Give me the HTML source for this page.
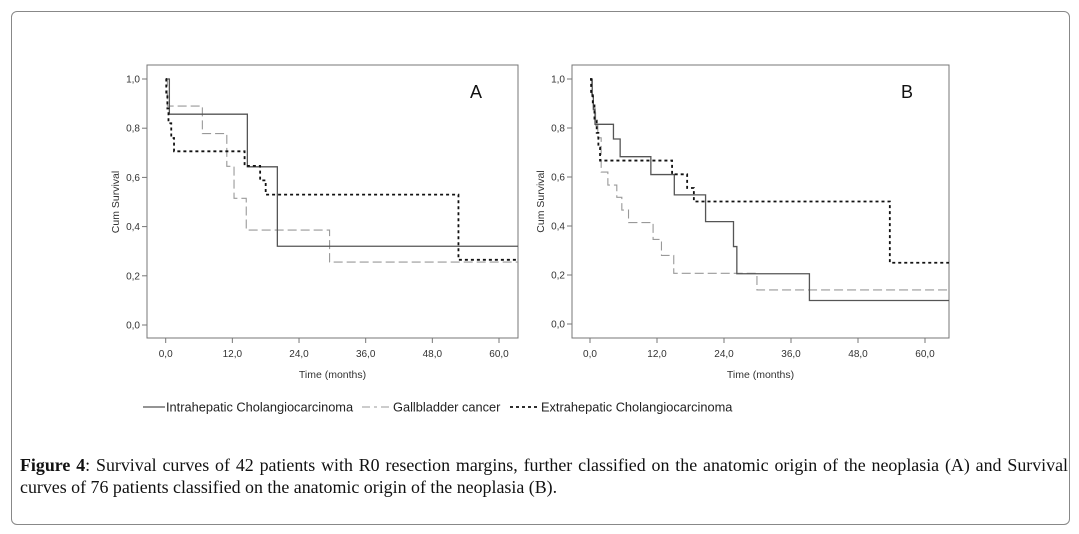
<!DOCTYPE html>
<html><head><meta charset="utf-8">
<style>
body{margin:0;width:1079px;height:534px;background:#fff;position:relative;overflow:hidden;font-family:"Liberation Sans",sans-serif}
#frame{position:absolute;left:11px;top:11px;width:1059px;height:514px;border:1px solid #888;border-radius:6px;box-sizing:border-box}
.cap{position:absolute;left:20px;width:1048px;font-family:"Liberation Serif",serif;font-size:17.9px;line-height:22px;color:#111;white-space:nowrap}
#cap1{top:454px;text-align:justify;text-align-last:justify;white-space:normal}
#cap2{top:476px}
svg{position:absolute;left:0;top:0}
</style></head><body>
<div id="frame"></div>
<svg id="chart" width="1079" height="534"></svg>
<div class="cap" id="cap1"><b>Figure 4</b>: Survival curves of 42 patients with R0 resection margins, further classified on the anatomic origin of the neoplasia (A) and Survival</div>
<div class="cap" id="cap2">curves of 76 patients classified on the anatomic origin of the neoplasia (B).</div>
<script>
const xTicks=[0,12,24,36,48,60];
const yTicks=[0,0.2,0.4,0.6,0.8,1.0];
const xTickLabels=["0,0","12,0","24,0","36,0","48,0","60,0"];
const yTickLabels=["0,0","0,2","0,4","0,6","0,8","1,0"];
const seriesNames=["Intrahepatic Cholangiocarcinoma","Gallbladder cancer","Extrahepatic Cholangiocarcinoma"];
// A: step times and survival values
const aIntraT=[0,0.66,14.7,20.1];
const aIntraS=[1.0,0.857,0.643,0.32];
const aGallT=[0,0.3,6.6,11,12.3,14.5,29.5];
const aGallS=[1.0,0.89,0.778,0.645,0.515,0.386,0.256];
const aExtraT=[0,0.1,0.3,0.5,1.0,1.5,14.2,17,18,52.7];
const aExtraS=[1.0,0.94,0.88,0.82,0.76,0.706,0.647,0.588,0.53,0.265];
// B
const bIntraT=[0,0.4,0.6,0.9,4.2,5.4,10.9,15.1,20.7,25.7,26.3,39.3];
const bIntraS=[1.0,0.93,0.875,0.815,0.755,0.683,0.61,0.527,0.418,0.316,0.205,0.096];
const bGallT=[0,0.3,0.6,1.0,1.4,2.0,3.2,4.8,5.7,6.9,11.3,12.8,15,29.9];
const bGallS=[1.0,0.93,0.88,0.81,0.76,0.62,0.567,0.517,0.465,0.414,0.345,0.28,0.207,0.139];
const bExtraT=[0,0.2,0.5,0.8,1.2,1.5,1.8,14.7,17.4,18.6,53.7];
const bExtraS=[1.0,0.94,0.9,0.83,0.78,0.72,0.667,0.611,0.555,0.5,0.25];

const NS="http://www.w3.org/2000/svg";
const svg=document.getElementById('chart');
function mk(t,a,p){const e=document.createElementNS(NS,t);for(const k in a)e.setAttribute(k,a[k]);(p||svg).appendChild(e);return e;}
const styles=[{stroke:"#555",w:1.3,dash:""},{stroke:"#999",w:1.1,dash:"9,4"},{stroke:"#111",w:1.8,dash:"3,3"}];
function panel(cfg){
  const g=mk('g',{});
  
  
  const x=v=>cfg.x0+(v/60)*(cfg.x60-cfg.x0);
  const y=v=>cfg.y0-v*(cfg.y0-cfg.y1);
  const box=mk('rect',{x:cfg.L,y:cfg.T,width:cfg.R-cfg.L,height:cfg.B-cfg.T,fill:"none",stroke:"#777","stroke-width":1},g);
  
  
  xTicks.forEach((t,i)=>{
    mk('line',{x1:x(t),x2:x(t),y1:cfg.B,y2:cfg.B+5,stroke:"#777"},g);
    const tx=mk('text',{x:x(t),y:cfg.B+19,"font-size":10,fill:"#333","text-anchor":"middle"},g);
    tx.textContent=xTickLabels[i];
    
    
  });
  yTicks.forEach((t,i)=>{
    mk('line',{x1:cfg.L-5,x2:cfg.L,y1:y(t),y2:y(t),stroke:"#777"},g);
    const tx=mk('text',{x:cfg.L-7,y:y(t)+3.5,"font-size":10,fill:"#333","text-anchor":"end"},g);
    tx.textContent=yTickLabels[i];
    
    
  });
  const xt=mk('text',{x:(cfg.L+cfg.R)/2,y:378,"font-size":10.5,fill:"#333","text-anchor":"middle"},g);
  xt.textContent="Time (months)";
  
  
  const yt=mk('text',{x:0,y:0,"font-size":10.5,fill:"#333","text-anchor":"middle",transform:`translate(${cfg.L-28},${(cfg.y0+cfg.y1)/2}) rotate(-90)`},g);
  yt.textContent="Cum Survival";
  
  
  const lb=mk('text',{x:cfg.R-48,y:98,"font-size":18,fill:"#111"},g);
  lb.textContent=cfg.id;
  
  
  const order=[1,0,2];
  order.forEach(si=>{
    const T=cfg.series[si][0],S=cfg.series[si][1];
    let d=`M${x(T[0])},${y(S[0])}`;
    for(let i=1;i<T.length;i++){d+=` H${x(T[i])} V${y(S[i])}`;}
    d+=` H${cfg.R}`;
    const st=styles[si];
    const p=mk('path',{d:d,fill:"none",stroke:st.stroke,"stroke-width":st.w,"stroke-dasharray":st.dash},g);
    
    
  });
}
panel({id:"A",L:147,R:518,T:65,B:338,x0:165.7,x60:499,y0:325,y1:79,
  series:[[aIntraT,aIntraS],[aGallT,aGallS],[aExtraT,aExtraS]]});
panel({id:"B",L:572,R:949,T:65,B:338,x0:590,x60:925,y0:324,y1:79,
  series:[[bIntraT,bIntraS],[bGallT,bGallS],[bExtraT,bExtraS]]});
// legend
const lg=mk('g',{});


const legX=[143,362,510];
seriesNames.forEach((n,i)=>{
  const st=styles[i];
  mk('line',{x1:legX[i],x2:legX[i]+(i==0?22:30),y1:407,y2:407,stroke:st.stroke,"stroke-width":st.w,"stroke-dasharray":i==1?"8,4,3,4":st.dash},lg);
  const t=mk('text',{x:legX[i]+(i==0?23:31),y:411.5,"font-size":12.8,fill:"#222"},lg);
  t.textContent=n;
  
  
});
</script>
</body></html>
